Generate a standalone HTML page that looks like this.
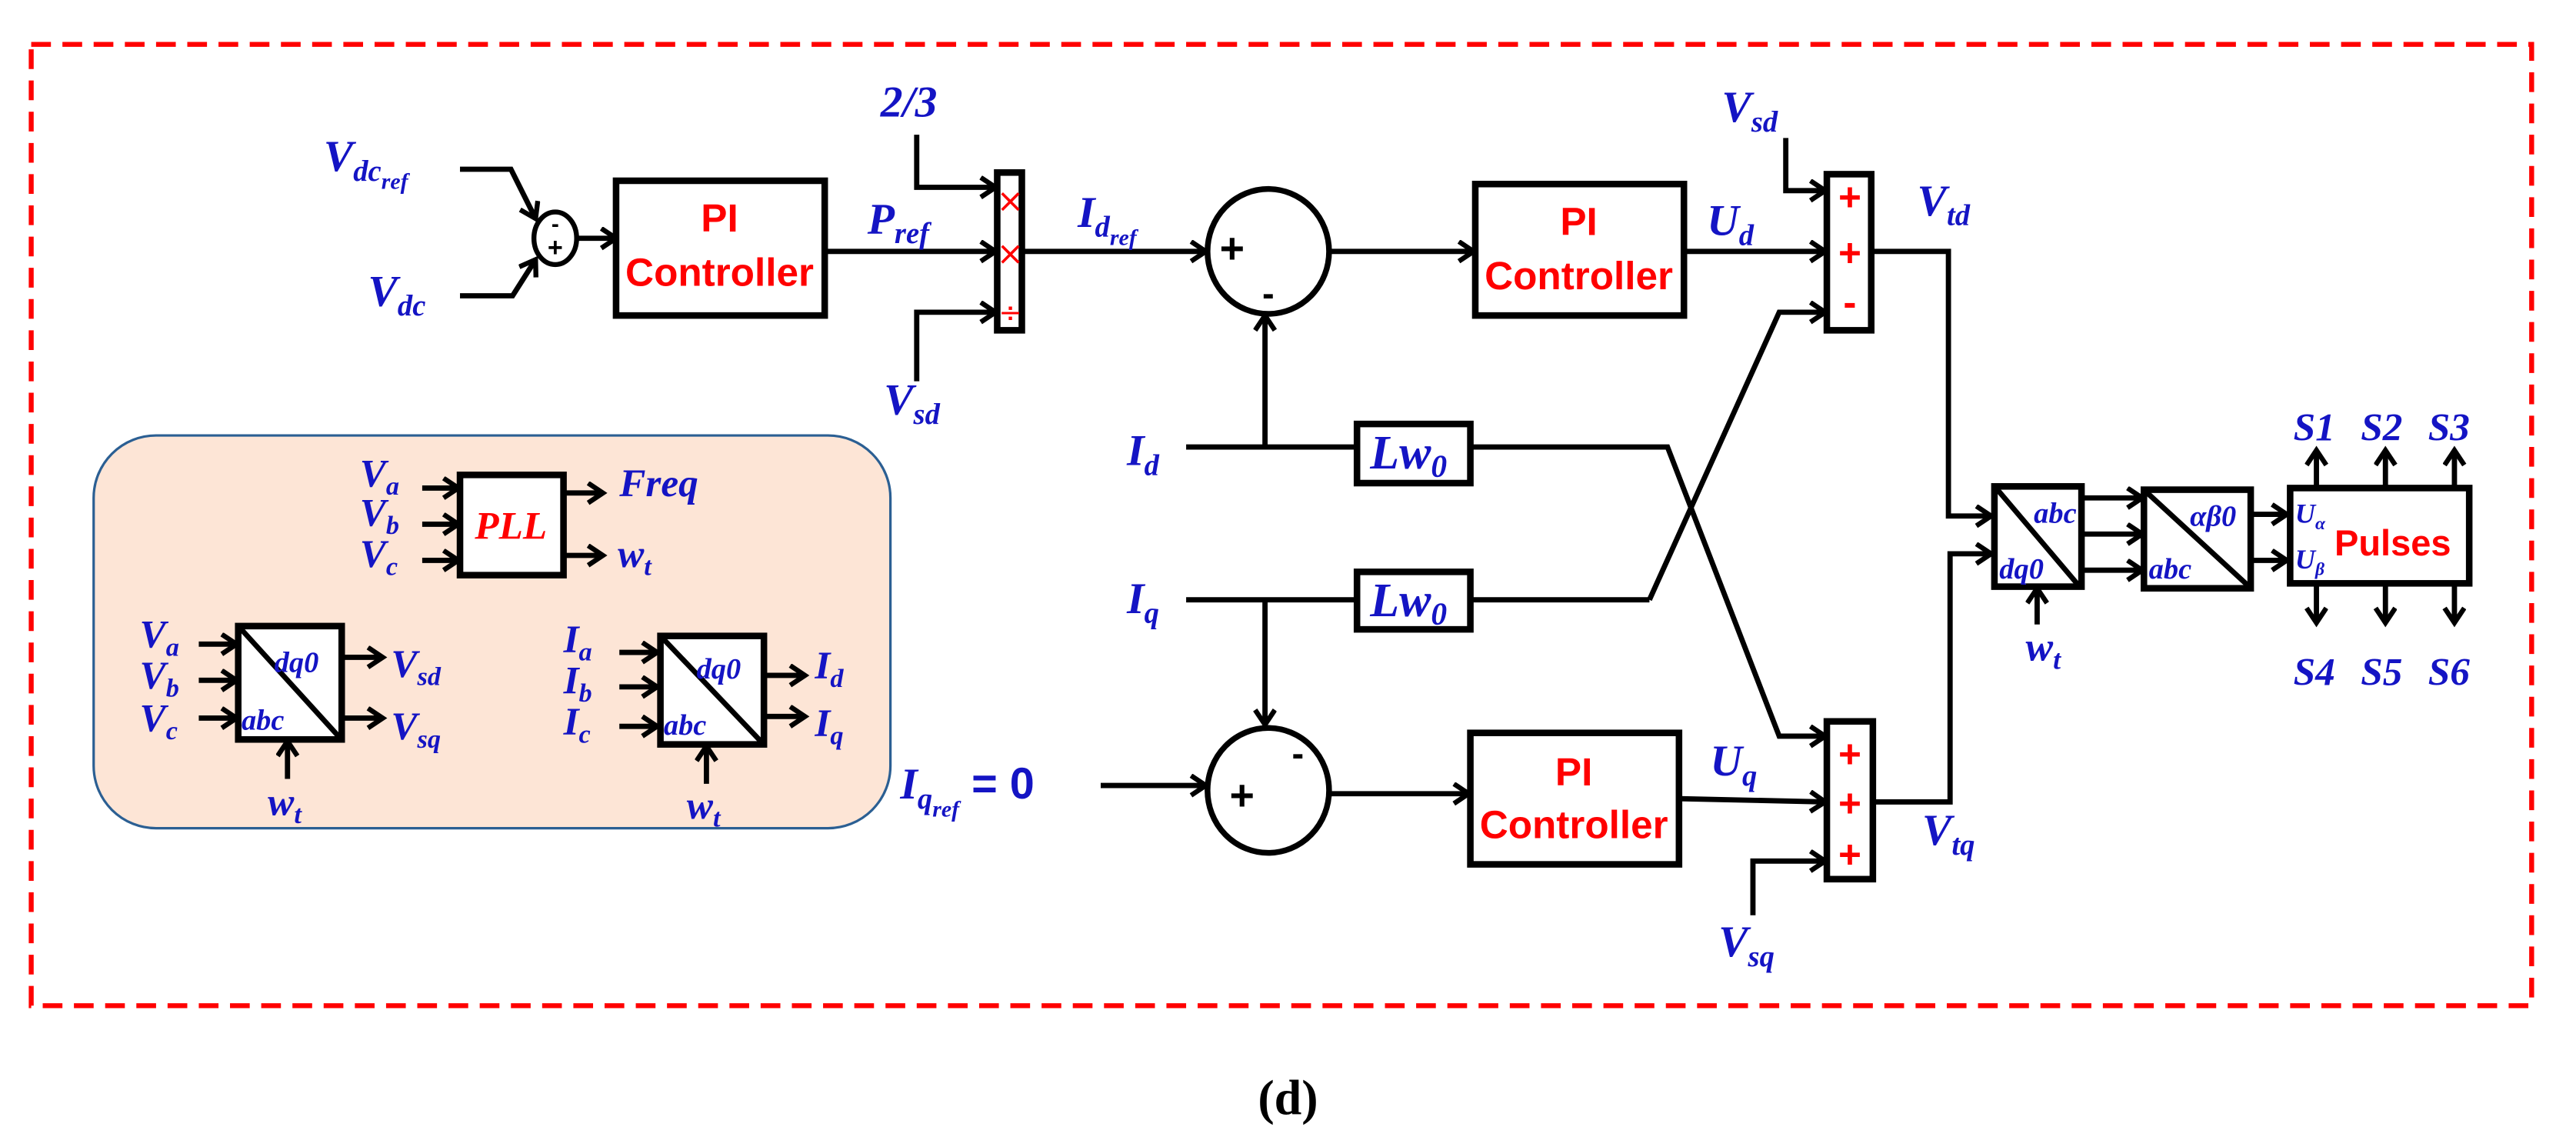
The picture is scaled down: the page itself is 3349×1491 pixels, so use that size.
<!DOCTYPE html>
<html><head><meta charset="utf-8"><style>
html,body{margin:0;padding:0;background:#fff;}
svg{display:block;}
.t{fill:#1414c4;font-family:"Liberation Serif",serif;font-style:italic;font-weight:bold;}
.s{font-size:0.67em;}
.r{fill:#f00;font-family:"Liberation Sans",sans-serif;font-weight:bold;}
.l{fill:none;stroke:#000;stroke-width:3.2;}
.bx{fill:#fff;stroke:#000;stroke-width:4;}
</style></head><body>
<svg width="3349" height="1491" viewBox="0 0 1568 698" preserveAspectRatio="none" font-size="27" xmlns="http://www.w3.org/2000/svg">
<defs>
<marker id="a" markerUnits="userSpaceOnUse" markerWidth="14" markerHeight="16" refX="11" refY="7" orient="auto">
<path d="M2,1 L11,7 L2,13" fill="none" stroke="#000" stroke-width="3"/>
</marker>
</defs>
<rect x="19" y="27" width="1522" height="585" fill="none" stroke="#f00" stroke-width="3" stroke-dasharray="12,7"/>

<rect x="57" y="265" width="485" height="239" rx="38" fill="#fde5d6" stroke="#2b5f93" stroke-width="1.5"/>

<text class="t" x="197" y="104">V<tspan class="s" dy="6">dc</tspan><tspan font-size="14" dy="5">ref</tspan></text>
<text class="t" x="224" y="186">V<tspan class="s" dy="6">dc</tspan></text>
<polyline class="l" points="280,103 311,103 326,133" marker-end="url(#a)"/>
<polyline class="l" points="280,180 312,180 326,158" marker-end="url(#a)"/>
<ellipse cx="338" cy="145" rx="13" ry="16" fill="#fff" stroke="#000" stroke-width="3"/>
<text x="338" y="141" text-anchor="middle" font-family="Liberation Sans" font-weight="bold" font-size="14">-</text>
<text x="338" y="156" text-anchor="middle" font-family="Liberation Sans" font-weight="bold" font-size="16">+</text>
<line class="l" x1="351" y1="145" x2="375" y2="145" marker-end="url(#a)"/>
<rect class="bx" x="375" y="110" width="127" height="82"/>
<text class="r" x="438" y="141" text-anchor="middle" font-size="24">PI</text>
<text class="r" x="438" y="174" text-anchor="middle" font-size="24">Controller</text>
<line class="l" x1="502" y1="153" x2="606" y2="153" marker-end="url(#a)"/>
<text class="t" x="528" y="142">P<tspan class="s" dy="6">ref</tspan></text>

<text class="t" x="536" y="71">2/3</text>
<polyline class="l" points="558,82 558,114 606,114" marker-end="url(#a)"/>
<text class="t" x="538" y="252">V<tspan class="s" dy="6">sd</tspan></text>
<polyline class="l" points="558,232 558,190 606,190" marker-end="url(#a)"/>
<rect class="bx" x="607" y="105" width="15" height="96" stroke-width="3.5"/>
<text x="615" y="129" text-anchor="middle" fill="#f00" font-family="DejaVu Sans" font-size="20">×</text>
<text x="615" y="161" text-anchor="middle" fill="#f00" font-family="DejaVu Sans" font-size="20">×</text>
<text x="615" y="196" text-anchor="middle" fill="#f00" font-family="DejaVu Sans" font-size="17">÷</text>
<line class="l" x1="622" y1="153" x2="734" y2="153" marker-end="url(#a)"/>
<text class="t" x="656" y="138">I<tspan class="s" dy="6">d</tspan><tspan font-size="14" dy="5">ref</tspan></text>

<ellipse cx="772" cy="153" rx="37" ry="38" fill="#fff" stroke="#000" stroke-width="3.5"/>
<text x="750" y="160" text-anchor="middle" font-family="Liberation Sans" font-weight="bold" font-size="26">+</text>
<text x="772" y="186" text-anchor="middle" font-family="Liberation Sans" font-weight="bold" font-size="22">-</text>
<line class="l" x1="809" y1="153" x2="897" y2="153" marker-end="url(#a)"/>
<rect class="bx" x="898" y="112" width="127" height="80"/>
<text class="r" x="961" y="143" text-anchor="middle" font-size="24">PI</text>
<text class="r" x="961" y="176" text-anchor="middle" font-size="24">Controller</text>
<line class="l" x1="1025" y1="153" x2="1111" y2="153" marker-end="url(#a)"/>
<text class="t" x="1039" y="143">U<tspan class="s" dy="6">d</tspan></text>
<text class="t" x="1048" y="74">V<tspan class="s" dy="6">sd</tspan></text>
<polyline class="l" points="1087,84 1087,116 1111,116" marker-end="url(#a)"/>
<polyline class="l" points="1004,365 1083,190 1111,190" marker-end="url(#a)"/>
<rect class="bx" x="1112" y="106" width="27" height="95" stroke-width="3.5"/>
<text x="1126" y="128" text-anchor="middle" fill="#f00" font-family="Liberation Sans" font-weight="bold" font-size="24">+</text>
<text x="1126" y="162" text-anchor="middle" fill="#f00" font-family="Liberation Sans" font-weight="bold" font-size="24">+</text>
<text x="1126" y="192" text-anchor="middle" fill="#f00" font-family="Liberation Sans" font-weight="bold" font-size="24">-</text>
<polyline class="l" points="1139,153 1186,153 1186,314 1212,314" marker-end="url(#a)"/>
<text class="t" x="1167" y="131">V<tspan class="s" dy="6">td</tspan></text>

<text class="t" x="686" y="283">I<tspan class="s" dy="6">d</tspan></text>
<line class="l" x1="722" y1="272" x2="826" y2="272"/>
<line class="l" x1="770" y1="272" x2="770" y2="192" marker-end="url(#a)"/>
<rect class="bx" x="826" y="258" width="69" height="36"/>
<text class="t" x="834" y="285" font-size="29">Lw<tspan class="s" dy="5">0</tspan></text>
<polyline class="l" points="895,272 1015,272 1083,448 1111,448" marker-end="url(#a)"/>

<text class="t" x="686" y="373">I<tspan class="s" dy="6">q</tspan></text>
<line class="l" x1="722" y1="365" x2="826" y2="365"/>
<line class="l" x1="770" y1="365" x2="770" y2="441" marker-end="url(#a)"/>
<rect class="bx" x="826" y="348" width="69" height="35"/>
<text class="t" x="834" y="375" font-size="29">Lw<tspan class="s" dy="5">0</tspan></text>
<line class="l" x1="895" y1="365" x2="1004" y2="365"/>

<text class="t" x="548" y="486">I<tspan class="s" dy="6">q</tspan><tspan font-size="14" dy="5">ref</tspan><tspan dy="-11" font-style="normal" font-family="Liberation Sans"> = 0</tspan></text>
<line class="l" x1="670" y1="478" x2="734" y2="478" marker-end="url(#a)"/>
<ellipse cx="772" cy="481" rx="37" ry="38" fill="#fff" stroke="#000" stroke-width="3.5"/>
<text x="756" y="493" text-anchor="middle" font-family="Liberation Sans" font-weight="bold" font-size="26">+</text>
<text x="790" y="466" text-anchor="middle" font-family="Liberation Sans" font-weight="bold" font-size="22">-</text>
<line class="l" x1="809" y1="483" x2="894" y2="483" marker-end="url(#a)"/>
<rect class="bx" x="895" y="446" width="127" height="80"/>
<text class="r" x="958" y="478" text-anchor="middle" font-size="24">PI</text>
<text class="r" x="958" y="510" text-anchor="middle" font-size="24">Controller</text>
<line class="l" x1="1022" y1="486" x2="1111" y2="488" marker-end="url(#a)"/>
<text class="t" x="1041" y="472">U<tspan class="s" dy="6">q</tspan></text>
<text class="t" x="1046" y="582">V<tspan class="s" dy="6">sq</tspan></text>
<polyline class="l" points="1067,557 1067,524 1111,524" marker-end="url(#a)"/>
<rect class="bx" x="1112" y="439" width="28" height="96" stroke-width="3.5"/>
<text x="1126" y="467" text-anchor="middle" fill="#f00" font-family="Liberation Sans" font-weight="bold" font-size="24">+</text>
<text x="1126" y="497" text-anchor="middle" fill="#f00" font-family="Liberation Sans" font-weight="bold" font-size="24">+</text>
<text x="1126" y="528" text-anchor="middle" fill="#f00" font-family="Liberation Sans" font-weight="bold" font-size="24">+</text>
<polyline class="l" points="1140,488 1187,488 1187,337 1212,337" marker-end="url(#a)"/>
<text class="t" x="1170" y="514">V<tspan class="s" dy="6">tq</tspan></text>

<rect class="bx" x="1214" y="296" width="53" height="61"/>
<line class="l" x1="1215" y1="297" x2="1265" y2="356"/>
<text class="t" x="1238" y="318" font-size="18">abc</text>
<text class="t" x="1217" y="352" font-size="18">dq0</text>
<line class="l" x1="1240" y1="380" x2="1240" y2="358" marker-end="url(#a)"/>
<text class="t" x="1233" y="402" font-size="25">w<tspan class="s" dy="5">t</tspan></text>
<line class="l" x1="1267" y1="303" x2="1304" y2="303" marker-end="url(#a)"/>
<line class="l" x1="1267" y1="325" x2="1304" y2="325" marker-end="url(#a)"/>
<line class="l" x1="1267" y1="347" x2="1304" y2="347" marker-end="url(#a)"/>
<rect class="bx" x="1305" y="298" width="65" height="60"/>
<line class="l" x1="1306" y1="299" x2="1368" y2="356"/>
<text class="t" x="1333" y="320" font-size="18">αβ0</text>
<text class="t" x="1308" y="352" font-size="18">abc</text>
<line class="l" x1="1370" y1="313" x2="1392" y2="313" marker-end="url(#a)"/>
<line class="l" x1="1370" y1="341" x2="1392" y2="341" marker-end="url(#a)"/>
<rect class="bx" x="1394" y="297" width="109" height="58"/>
<text class="t" x="1397" y="318" font-size="17">U<tspan font-size="11" dy="4">α</tspan></text>
<text class="t" x="1397" y="346" font-size="17">U<tspan font-size="11" dy="4">β</tspan></text>
<text class="r" x="1421" y="338" font-size="22">Pulses</text>
<g>
<line class="l" x1="1410" y1="297" x2="1410" y2="274" marker-end="url(#a)"/>
<line class="l" x1="1452" y1="297" x2="1452" y2="274" marker-end="url(#a)"/>
<line class="l" x1="1494" y1="297" x2="1494" y2="274" marker-end="url(#a)"/>
<line class="l" x1="1410" y1="355" x2="1410" y2="379" marker-end="url(#a)"/>
<line class="l" x1="1452" y1="355" x2="1452" y2="379" marker-end="url(#a)"/>
<line class="l" x1="1494" y1="355" x2="1494" y2="379" marker-end="url(#a)"/>
</g>
<text class="t" x="1396" y="268" font-size="24">S1</text>
<text class="t" x="1437" y="268" font-size="24">S2</text>
<text class="t" x="1478" y="268" font-size="24">S3</text>
<text class="t" x="1396" y="417" font-size="24">S4</text>
<text class="t" x="1437" y="417" font-size="24">S5</text>
<text class="t" x="1478" y="417" font-size="24">S6</text>

<text class="t" x="219" y="296" font-size="24">V<tspan class="s" dy="5">a</tspan></text>
<text class="t" x="219" y="320" font-size="24">V<tspan class="s" dy="5">b</tspan></text>
<text class="t" x="219" y="345" font-size="24">V<tspan class="s" dy="5">c</tspan></text>
<line class="l" x1="257" y1="297" x2="279" y2="297" marker-end="url(#a)"/>
<line class="l" x1="257" y1="319" x2="279" y2="319" marker-end="url(#a)"/>
<line class="l" x1="257" y1="341" x2="279" y2="341" marker-end="url(#a)"/>
<rect class="bx" x="280" y="289" width="63" height="61"/>
<text x="311" y="328" text-anchor="middle" fill="#f00" font-family="Liberation Serif" font-style="italic" font-weight="bold" font-size="24">PLL</text>
<line class="l" x1="343" y1="300" x2="367" y2="300" marker-end="url(#a)"/>
<line class="l" x1="343" y1="338" x2="367" y2="338" marker-end="url(#a)"/>
<svg x="375" y="280" width="55" height="30" overflow="hidden"><text class="t" x="2" y="22" font-size="24">Freq</text></svg>
<text class="t" x="376" y="345" font-size="24">w<tspan class="s" dy="5">t</tspan></text>

<text class="t" x="85" y="394" font-size="24">V<tspan class="s" dy="5">a</tspan></text>
<text class="t" x="85" y="419" font-size="24">V<tspan class="s" dy="5">b</tspan></text>
<text class="t" x="85" y="445" font-size="24">V<tspan class="s" dy="5">c</tspan></text>
<line class="l" x1="121" y1="392" x2="144" y2="392" marker-end="url(#a)"/>
<line class="l" x1="121" y1="414" x2="144" y2="414" marker-end="url(#a)"/>
<line class="l" x1="121" y1="437" x2="144" y2="437" marker-end="url(#a)"/>
<rect class="bx" x="145" y="381" width="63" height="69"/>
<line class="l" x1="146" y1="382" x2="206" y2="448"/>
<text class="t" x="167" y="409" font-size="18">dq0</text>
<text class="t" x="147" y="444" font-size="18">abc</text>
<line class="l" x1="208" y1="400" x2="233" y2="400" marker-end="url(#a)"/>
<line class="l" x1="208" y1="437" x2="233" y2="437" marker-end="url(#a)"/>
<text class="t" x="238" y="412" font-size="24">V<tspan class="s" dy="5">sd</tspan></text>
<text class="t" x="238" y="450" font-size="24">V<tspan class="s" dy="5">sq</tspan></text>
<line class="l" x1="175" y1="474" x2="175" y2="451" marker-end="url(#a)"/>
<text class="t" x="163" y="496" font-size="24">w<tspan class="s" dy="5">t</tspan></text>

<text class="t" x="343" y="397" font-size="24">I<tspan class="s" dy="5">a</tspan></text>
<text class="t" x="343" y="422" font-size="24">I<tspan class="s" dy="5">b</tspan></text>
<text class="t" x="343" y="447" font-size="24">I<tspan class="s" dy="5">c</tspan></text>
<line class="l" x1="377" y1="397" x2="400" y2="397" marker-end="url(#a)"/>
<line class="l" x1="377" y1="418" x2="400" y2="418" marker-end="url(#a)"/>
<line class="l" x1="377" y1="442" x2="400" y2="442" marker-end="url(#a)"/>
<rect class="bx" x="402" y="387" width="63" height="66"/>
<line class="l" x1="403" y1="388" x2="463" y2="451"/>
<text class="t" x="424" y="413" font-size="18">dq0</text>
<text class="t" x="404" y="447" font-size="18">abc</text>
<line class="l" x1="465" y1="411" x2="490" y2="411" marker-end="url(#a)"/>
<line class="l" x1="465" y1="436" x2="490" y2="436" marker-end="url(#a)"/>
<text class="t" x="496" y="413" font-size="24">I<tspan class="s" dy="5">d</tspan></text>
<text class="t" x="496" y="448" font-size="24">I<tspan class="s" dy="5">q</tspan></text>
<line class="l" x1="430" y1="477" x2="430" y2="454" marker-end="url(#a)"/>
<text class="t" x="418" y="498" font-size="24">w<tspan class="s" dy="5">t</tspan></text>

<text x="784" y="678" text-anchor="middle" font-family="Liberation Serif" font-weight="bold" font-size="30" fill="#000">(d)</text>
</svg>
</body></html>
